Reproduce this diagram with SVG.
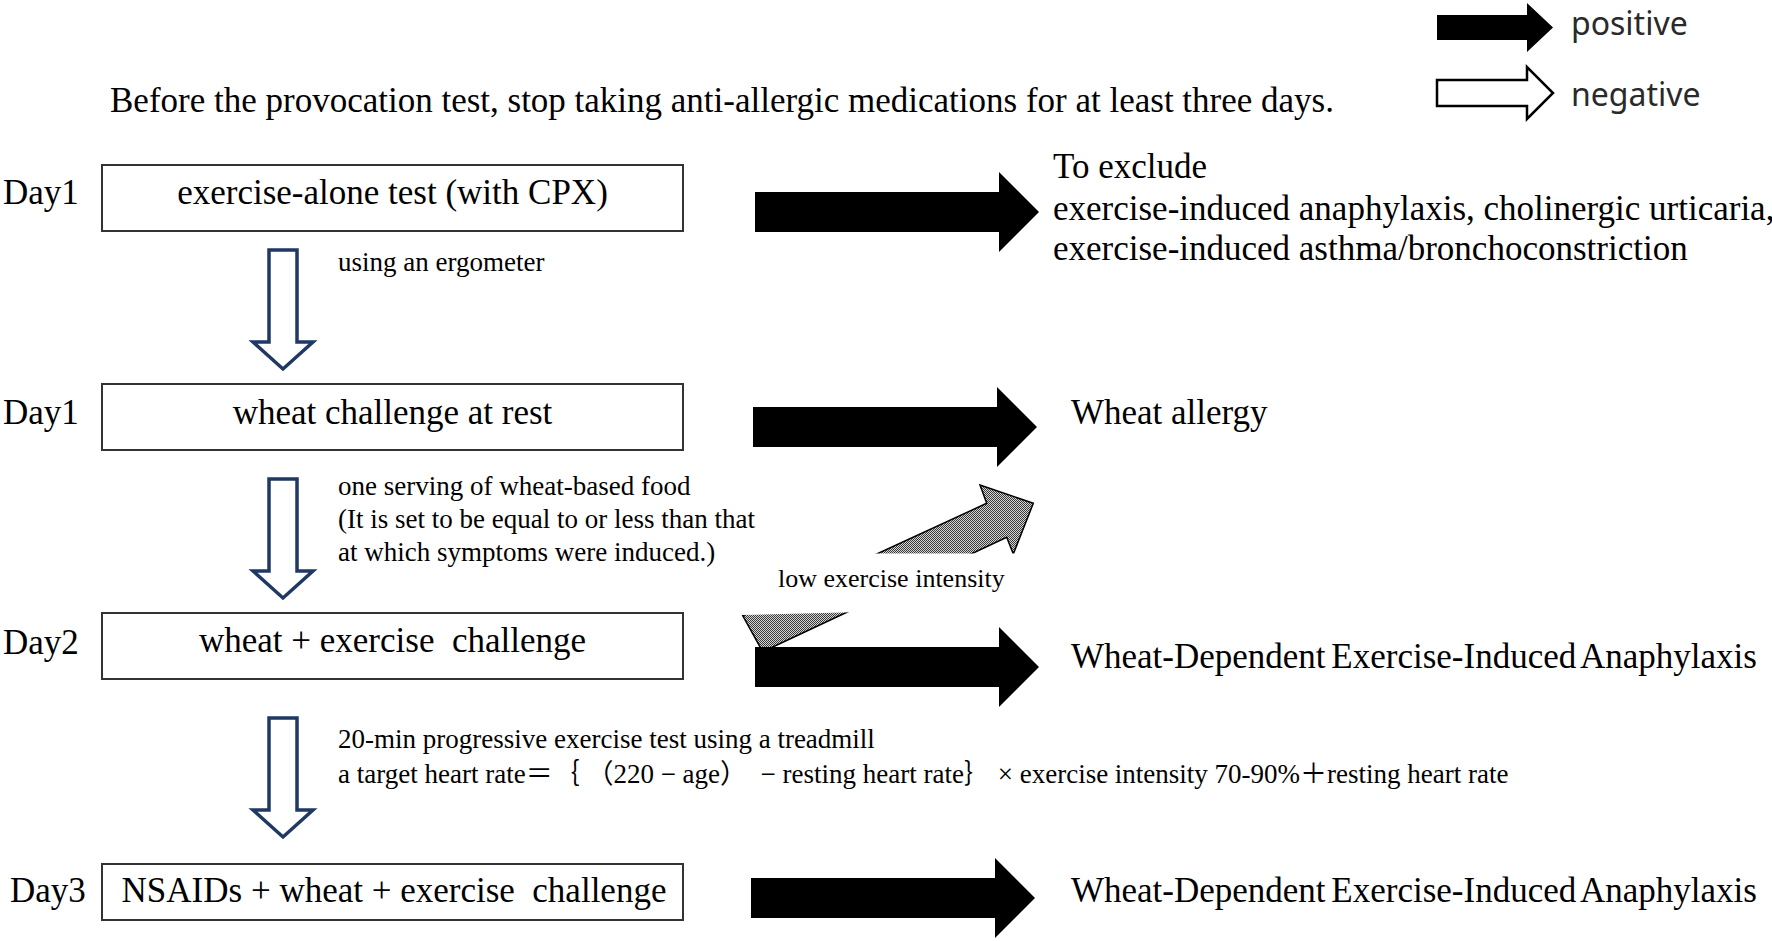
<svg xmlns="http://www.w3.org/2000/svg" xmlns:xlink="http://www.w3.org/1999/xlink" width="1772" height="941" viewBox="0 0 1772 941">
<style>
.serif{font-family:"Liberation Serif","Noto Sans CJK JP",serif;fill:#000;white-space:pre}
.big{font-size:35px}
.day{font-size:35px}
.small{font-size:27px}
.legend{font-family:"Noto Sans","Liberation Sans",sans-serif;font-size:32px;fill:#2a2a2a}
.box{fill:#fff;stroke:#333;stroke-width:2}
.down{fill:#fff;stroke:#1f3864;stroke-width:3.5;stroke-linejoin:miter}
.pos{fill:#000}
</style>
<defs>
<pattern id="dots" width="2" height="2" patternUnits="userSpaceOnUse">
<rect width="2" height="2" fill="#d4d4d4"/>
<rect width="1" height="1" fill="#3a3a3a"/>
<rect x="1" y="1" width="1" height="1" fill="#3a3a3a"/>
</pattern>
<path id="downArrow" d="M269,0 H297 V92 H313 L283,119 L253,92 H269 Z"/>
<path id="posArrow" d="M0,-20 H244 V-40 L284,0 L244,40 V20 H0 Z"/>
</defs>
<rect width="1772" height="941" fill="#fff"/>

<g id="legend">
<path class="pos" d="M1437,15 H1527 V3 L1553,27.5 L1527,52 V40 H1437 Z"/>
<text class="legend" x="1571" y="35">positive</text>
<path d="M1437,80 H1527 V67 L1553,93 L1527,119 V106 H1437 Z" fill="#fff" stroke="#000" stroke-width="2.5"/>
<text class="legend" x="1571" y="106">negative</text>
</g>

<g id="note">
<text class="serif big" x="110" y="112">Before the provocation test, stop taking anti-allergic medications for at least three days.</text>
</g>

<g id="day-labels">
<text class="serif day" x="3" y="204">Day1</text>
<text class="serif day" x="3" y="424">Day1</text>
<text class="serif day" x="3" y="654">Day2</text>
<text class="serif day" x="10" y="902">Day3</text>
</g>

<g id="node-exercise-alone">
<rect class="box" x="102" y="165" width="581" height="66"/>
<text class="serif big" x="392.5" y="204" text-anchor="middle">exercise-alone test (with CPX)</text>
</g>
<g id="node-wheat-rest">
<rect class="box" x="102" y="384" width="581" height="66"/>
<text class="serif big" x="392.5" y="424" text-anchor="middle">wheat challenge at rest</text>
</g>
<g id="node-wheat-exercise">
<rect class="box" x="102" y="613" width="581" height="66"/>
<text class="serif big" x="392.5" y="652" text-anchor="middle">wheat + exercise  challenge</text>
</g>
<g id="node-nsaids">
<rect class="box" x="102" y="864" width="581" height="56"/>
<text class="serif big" x="394" y="902" text-anchor="middle">NSAIDs + wheat + exercise  challenge</text>
</g>

<g id="node-result-exclude">
<text class="serif big" x="1053" y="178">To exclude</text>
<text class="serif big" x="1053" y="220">exercise-induced anaphylaxis, cholinergic urticaria,</text>
<text class="serif big" x="1053" y="260">exercise-induced asthma/bronchoconstriction</text>
</g>
<g id="node-result-wheat-allergy">
<text class="serif big" x="1071" y="424">Wheat allergy</text>
</g>
<g id="node-result-wdeia-1">
<text class="serif big" x="1071" y="668" word-spacing="-3">Wheat-Dependent Exercise-Induced Anaphylaxis</text>
</g>
<g id="node-result-wdeia-2">
<text class="serif big" x="1071" y="902" word-spacing="-3">Wheat-Dependent Exercise-Induced Anaphylaxis</text>
</g>

<g id="connectors">
<use href="#downArrow" class="down" transform="translate(0,250)"/>
<use href="#downArrow" class="down" transform="translate(0,479)"/>
<use href="#downArrow" class="down" transform="translate(0,718)"/>

<text class="serif small" x="338" y="271">using an ergometer</text>
<text class="serif small" x="338" y="495">one serving of wheat-based food</text>
<text class="serif small" x="338" y="528">(It is set to be equal to or less than that</text>
<text class="serif small" x="338" y="561">at which symptoms were induced.)</text>
<text class="serif small" x="338" y="748">20-min progressive exercise test using a treadmill</text>
<text class="serif small" x="338" y="783">a target heart rate＝｛ （220 − age）  − resting heart rate｝ × exercise intensity 70-90%＋resting heart rate</text>

<polygon points="742.7,615.7 986.7,503.3 980,485 1033.3,503.3 1013.3,554 1006.7,537.3 762.7,651.7" fill="url(#dots)" stroke="#000" stroke-width="1.5" stroke-linejoin="miter"/>
<polygon points="722,553.5 1030,553.5 1030,611 852,612.3 742.7,615 722,616" fill="#fff"/>
<text class="serif" x="778" y="587" font-size="26">low exercise intensity</text>

<use href="#posArrow" class="pos" transform="translate(755,212)"/>
<use href="#posArrow" class="pos" transform="translate(753,427)"/>
<use href="#posArrow" class="pos" transform="translate(755,667)"/>
<use href="#posArrow" class="pos" transform="translate(751,898)"/>
</g>
</svg>
